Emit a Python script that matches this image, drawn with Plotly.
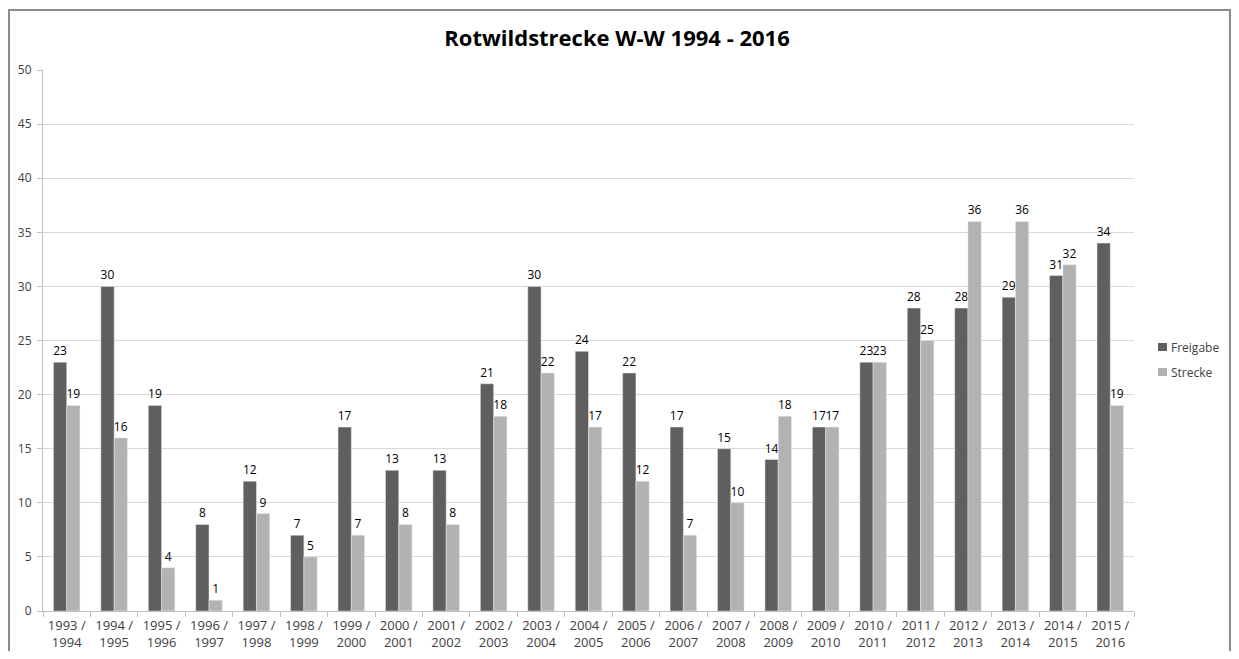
import plotly.graph_objects as go

seasons = ["1993 /<br>1994", "1994 /<br>1995", "1995 /<br>1996", "1996 /<br>1997", "1997 /<br>1998",
           "1998 /<br>1999", "1999 /<br>2000", "2000 /<br>2001", "2001 /<br>2002", "2002 /<br>2003",
           "2003 /<br>2004", "2004 /<br>2005", "2005 /<br>2006", "2006 /<br>2007", "2007 /<br>2008",
           "2008 /<br>2009", "2009 /<br>2010", "2010 /<br>2011", "2011 /<br>2012", "2012 /<br>2013",
           "2013 /<br>2014", "2014 /<br>2015", "2015 /<br>2016"]
freigabe = [23, 30, 19, 8, 12, 7, 17, 13, 13, 21, 30, 24, 22, 17, 15, 14, 17, 23, 28, 28, 29, 31, 34]
strecke = [19, 16, 4, 1, 9, 5, 7, 8, 8, 18, 22, 17, 12, 7, 10, 18, 17, 23, 25, 36, 36, 32, 19]
series_names = ["Freigabe", "Strecke"]
series_colors = ["#5f5f5f", "#b2b2b2"]

FONT = "Open Sans"
W, H = 1223, 643
L, R, T, B = 35, 97, 62, 40
PW, PH = W - L - R, H - T - B
OFF = 8  # page body margin


def px_x(px):
    return (px - OFF - L) / PW


def px_y(py):
    return (OFF + H - B - py) / PH


fig = go.Figure()
for name, vals, col in zip(series_names, [freigabe, strecke], series_colors):
    fig.add_trace(go.Bar(x=seasons, y=vals, name=name, marker_color=col,
                         text=vals, textposition="outside", cliponaxis=False,
                         constraintext="none",
                         textfont=dict(size=12, color="#000000", family=FONT)))

fig.update_layout(
    width=W, height=H,
    paper_bgcolor="white", plot_bgcolor="white",
    margin=dict(l=L, r=R, t=T, b=B, autoexpand=False),
    barmode="group", bargap=0.44, bargroupgap=0,
    showlegend=False,
    font=dict(family=FONT, size=12, color="#404040"),
    title=dict(text="<b>Rotwildstrecke W-W 1994 - 2016</b>", x=(617 - OFF) / W, xanchor="center",
               y=1 - 30 / H, yanchor="middle", font=dict(size=22, color="#000000", family=FONT)),
    xaxis=dict(showgrid=False, showline=True, linecolor="#bfbfbf", linewidth=1, automargin=False,
               ticks="outside", tickson="boundaries", ticklen=5, tickcolor="#bfbfbf",
               tickfont=dict(size=13, color="#404040", family=FONT), tickangle=0,
               ticklabelstandoff=2),
    yaxis=dict(range=[0, 50], dtick=5, showgrid=True, gridcolor="#d9d9d9", gridwidth=1,
               showline=True, linecolor="#bfbfbf", linewidth=1, zeroline=False, automargin=False,
               ticks="outside", ticklen=5, tickcolor="#bfbfbf", ticklabelstandoff=3,
               tickfont=dict(size=12, color="#404040", family=FONT)),
)

# legend drawn as small squares + text
for i, (name, col) in enumerate(zip(series_names, series_colors)):
    cy = 347 + i * 25
    fig.add_shape(type="rect", xref="paper", yref="paper",
                  x0=px_x(1158), x1=px_x(1167), y0=px_y(cy + 4), y1=px_y(cy - 4),
                  line=dict(width=0), fillcolor=col)
    fig.add_annotation(xref="paper", yref="paper", x=px_x(1169), y=px_y(cy),
                       xanchor="left", yanchor="middle", showarrow=False, text=name,
                       font=dict(size=12, color="#404040", family=FONT))

# outer chart frame
fig.add_shape(type="rect", xref="paper", yref="paper",
              x0=px_x(9), x1=px_x(1230), y0=px_y(680), y1=px_y(10),
              line=dict(color="#8c8c8c", width=2), fillcolor="rgba(0,0,0,0)", layer="below")

fig.write_html("out.html")
